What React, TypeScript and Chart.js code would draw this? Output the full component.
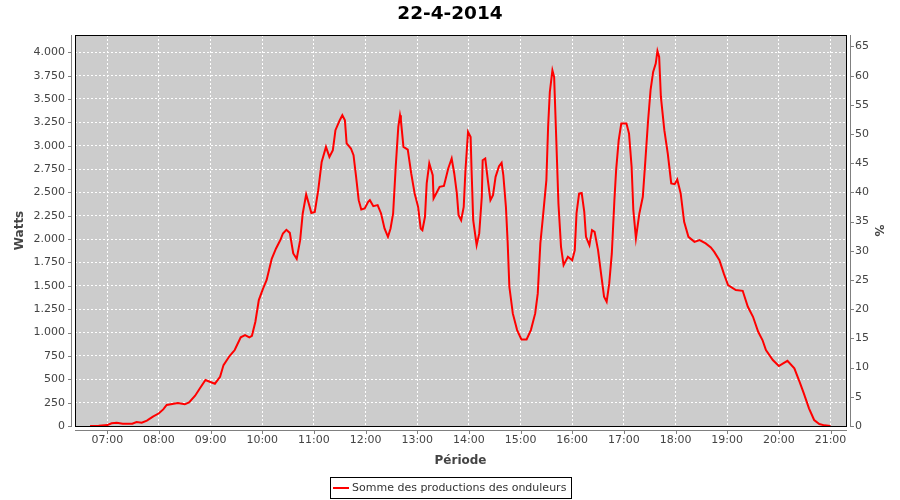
import React, { useEffect, useRef } from "react";
import { Chart, registerables } from "chart.js";

Chart.register(...registerables);

const TITLE = "22-4-2014";
const SERIES_LABEL = "Somme des productions des onduleurs";
const Y_LABEL = "Watts";
const Y2_LABEL = "%";
const X_LABEL = "Période";

const X_RANGE = ["06:22", "21:18"];
const Y_MAX = 4185;
const PERCENT_BASE = 62.5; // watts per percent

const hourLabels = [
  "07:00", "08:00", "09:00", "10:00", "11:00", "12:00", "13:00", "14:00",
  "15:00", "16:00", "17:00", "18:00", "19:00", "20:00", "21:00",
];
const wattTicks = [0, 250, 500, 750, 1000, 1250, 1500, 1750, 2000, 2250, 2500, 2750, 3000, 3250, 3500, 3750, 4000];
const wattTickLabels = ["0", "250", "500", "750", "1.000", "1.250", "1.500", "1.750", "2.000", "2.250", "2.500", "2.750", "3.000", "3.250", "3.500", "3.750", "4.000"];
const percentTicks = [0, 5, 10, 15, 20, 25, 30, 35, 40, 45, 50, 55, 60, 65];

const times = [
  "06:40", "06:50", "07:00", "07:05", "07:11", "07:18", "07:29", "07:34", "07:40", "07:46",
  "07:53", "08:00", "08:05", "08:09", "08:17", "08:22", "08:30", "08:35", "08:42", "08:48",
  "08:54", "08:59", "09:05", "09:11", "09:15", "09:22", "09:28", "09:35", "09:40", "09:45",
  "09:48", "09:52", "09:56", "10:01", "10:05", "10:11", "10:16", "10:21", "10:24", "10:28",
  "10:32", "10:36", "10:40", "10:44", "10:47", "10:51", "10:54", "10:57", "11:01", "11:05",
  "11:09", "11:14", "11:18", "11:22", "11:25", "11:30", "11:33", "11:36", "11:38", "11:43",
  "11:46", "11:49", "11:52", "11:55", "11:59", "12:03", "12:05", "12:09", "12:14", "12:18",
  "12:22", "12:26", "12:29", "12:32", "12:35", "12:38", "12:40", "12:41", "12:44", "12:49",
  "12:53", "12:57", "13:01", "13:04", "13:06", "13:09", "13:11", "13:14", "13:18", "13:19",
  "13:22", "13:26", "13:31", "13:36", "13:40", "13:43", "13:46", "13:48", "13:51", "13:54",
  "13:56", "13:59", "14:02", "14:03", "14:05", "14:09", "14:12", "14:15", "14:16", "14:19",
  "14:22", "14:25", "14:28", "14:31", "14:35", "14:38", "14:40", "14:43", "14:45", "14:47",
  "14:51", "14:56", "15:01", "15:07", "15:12", "15:17", "15:20", "15:23", "15:26", "15:30",
  "15:32", "15:34", "15:37", "15:39", "15:41", "15:44", "15:47", "15:50", "15:55", "16:00",
  "16:03", "16:05", "16:08", "16:11", "16:14", "16:16", "16:20", "16:23", "16:26", "16:30",
  "16:34", "16:37", "16:40", "16:43", "16:46", "16:49", "16:51", "16:54", "16:57", "17:03",
  "17:06", "17:09", "17:11", "17:14", "17:18", "17:22", "17:25", "17:28", "17:31", "17:34",
  "17:37", "17:39", "17:41", "17:43", "17:47", "17:51", "17:55", "17:59", "18:02", "18:06",
  "18:10", "18:15", "18:22", "18:28", "18:35", "18:41", "18:45", "18:51", "18:56", "19:01",
  "19:10", "19:18", "19:24", "19:30", "19:36", "19:41", "19:45", "19:53", "20:00", "20:05",
  "20:10", "20:18", "20:24", "20:29", "20:35", "20:41", "20:47", "20:53", "21:00",
];

const watts = [
  0, 2, 10, 29, 35, 25, 25, 43, 35, 57,
  100, 136, 178, 225, 239, 246, 232, 253, 324, 410,
  492, 474, 453, 527, 652, 749, 813, 949, 973, 949,
  966, 1116, 1348, 1473, 1561, 1790, 1900, 1990, 2061, 2100,
  2067, 1847, 1790, 1989, 2275, 2478, 2382, 2281, 2292, 2524,
  2827, 2987, 2880, 2952, 3166, 3273, 3326, 3273, 3024, 2970,
  2898, 2667, 2417, 2317, 2328, 2399, 2417, 2353, 2364, 2275,
  2114, 2025, 2114, 2275, 2773, 3201, 3326, 3273, 2987, 2959,
  2703, 2489, 2346, 2114, 2096, 2239, 2596, 2810, 2684, 2435,
  2489, 2560, 2570, 2756, 2863, 2703, 2489, 2257, 2203, 2346,
  2738, 3148, 3094, 2773, 2203, 1936, 2061, 2453, 2845, 2863,
  2631, 2417, 2471, 2667, 2781, 2817, 2684, 2346, 1971, 1490,
  1205, 1027, 927, 927, 1027, 1205, 1419, 1954, 2239, 2631,
  3201, 3575, 3807, 3736, 3201, 2382, 1918, 1722, 1811, 1775,
  1882, 2275, 2489, 2495, 2292, 2025, 1936, 2096, 2078, 1882,
  1597, 1383, 1329, 1526, 1847, 2417, 2738, 3059, 3237, 3237,
  3130, 2773, 2310, 2010, 2275, 2453, 2845, 3254, 3594, 3790,
  3879, 4014, 3950, 3522, 3166, 2916, 2596, 2588, 2638, 2489,
  2185, 2025, 1971, 1989, 1954, 1911, 1864, 1775, 1633, 1508,
  1455, 1447, 1276, 1169, 1009, 920, 813, 706, 642, 670,
  698, 617, 474, 349, 189, 64, 21, 7, 0,
];

const toMin = (s: string) => {
  const [h, m] = s.split(":").map(Number);
  return h * 60 + m;
};

const FONT = "DejaVu Sans";
const TICK_COLOR = "#444444";

const framePlugin = {
  id: "frame",
  beforeDraw(chart: any) {
    const { ctx, chartArea: a } = chart;
    ctx.save();
    ctx.fillStyle = "#ffffff";
    ctx.fillRect(0, 0, chart.width, chart.height);
    ctx.fillStyle = "#cccccc";
    ctx.fillRect(a.left, a.top, a.right - a.left, a.bottom - a.top);
    ctx.restore();
  },
  afterDraw(chart: any) {
    const { ctx, chartArea: a, scales } = chart;
    const L = Math.round(a.left), R = Math.round(a.right), T = Math.round(a.top), B = Math.round(a.bottom);
    ctx.save();
    // plot outline
    ctx.strokeStyle = "#000000";
    ctx.lineWidth = 1;
    ctx.strokeRect(L + 0.5, T + 0.5, R - L, B - T);
    // axis lines (offset)
    ctx.strokeStyle = "#808080";
    ctx.beginPath();
    ctx.moveTo(L - 3.5, T);
    ctx.lineTo(L - 3.5, B + 1);
    ctx.moveTo(R + 4.5, T);
    ctx.lineTo(R + 4.5, B + 1);
    ctx.moveTo(L, B + 4.5);
    ctx.lineTo(R + 1, B + 4.5);
    // tick marks
    scales.y.ticks.forEach((t: any) => {
      const y = Math.round(scales.y.getPixelForValue(t.value)) + 0.5;
      ctx.moveTo(L - 4, y);
      ctx.lineTo(L - 7, y);
    });
    scales.y2.ticks.forEach((t: any) => {
      const y = Math.round(scales.y2.getPixelForValue(t.value)) + 0.5;
      ctx.moveTo(R + 5, y);
      ctx.lineTo(R + 8, y);
    });
    scales.x.ticks.forEach((t: any) => {
      const x = Math.round(scales.x.getPixelForValue(t.value)) + 0.5;
      ctx.moveTo(x, B + 5);
      ctx.lineTo(x, B + 8);
    });
    ctx.stroke();

    // legend
    ctx.font = `11px "${FONT}"`;
    const tw = ctx.measureText(SERIES_LABEL).width;
    const boxW = Math.round(tw + 27);
    const bx = Math.round((chart.width - boxW) / 2);
    const by = 477;
    const bh = 21;
    ctx.strokeStyle = "#000000";
    ctx.lineWidth = 1;
    ctx.strokeRect(bx + 0.5, by + 0.5, boxW, bh);
    ctx.strokeStyle = "#ff0000";
    ctx.lineWidth = 2;
    ctx.beginPath();
    ctx.moveTo(bx + 3, by + 11);
    ctx.lineTo(bx + 19, by + 11);
    ctx.stroke();
    ctx.fillStyle = "#333333";
    ctx.textBaseline = "middle";
    ctx.textAlign = "left";
    ctx.fillText(SERIES_LABEL, bx + 22, by + 11.5);
    ctx.restore();
  },
};

export default function App() {
  const ref = useRef<HTMLCanvasElement | null>(null);

  useEffect(() => {
    if (!ref.current) return;
    Chart.defaults.font.family = FONT;
    const points = times.map((t, i) => ({ x: toMin(t), y: watts[i] }));
    const hourValues = hourLabels.map(toMin);

    const chart = new Chart(ref.current, {
      type: "line",
      data: {
        datasets: [
          {
            label: SERIES_LABEL,
            data: points,
            borderColor: "#ff0000",
            backgroundColor: "#ff0000",
            borderWidth: 2,
            pointRadius: 0,
            tension: 0,
            fill: false,
            yAxisID: "y",
          },
        ],
      },
      options: {
        animation: false,
        responsive: false,
        layout: { padding: { top: 0, left: 0, right: 0, bottom: 24 } },
        plugins: {
          legend: { display: false },
          tooltip: { enabled: false },
          title: {
            display: true,
            text: TITLE,
            color: "#000000",
            font: { size: 18.5, weight: "bold", family: FONT },
            padding: { top: 3, bottom: 9.8 },
          },
        },
        scales: {
          x: {
            type: "linear",
            position: "bottom",
            min: toMin(X_RANGE[0]) + 0.5,
            max: toMin(X_RANGE[1]),
            afterBuildTicks: (s: any) => {
              s.ticks = hourValues.map((v) => ({ value: v }));
            },
            afterFit: (s: any) => {
              s.height = 50;
            },
            ticks: {
              callback: (v: any) => hourLabels[hourValues.indexOf(Number(v))] ?? "",
              color: TICK_COLOR,
              font: { size: 11, family: FONT },
              padding: 8,
              maxRotation: 0,
              autoSkip: false,
            },
            grid: { color: "#ffffff", lineWidth: 1, drawTicks: false },
            border: { display: false, dash: [2, 2] },
            title: {
              display: true,
              text: X_LABEL,
              color: TICK_COLOR,
              font: { size: 12, weight: "bold", family: FONT },
              padding: { top: 0, bottom: 7.6 },
            },
          },
          y: {
            type: "linear",
            position: "left",
            min: 0,
            max: Y_MAX,
            afterBuildTicks: (s: any) => {
              s.ticks = wattTicks.map((v) => ({ value: v }));
            },
            afterFit: (s: any) => {
              s.width = 75;
            },
            ticks: {
              callback: (v: any) => wattTickLabels[wattTicks.indexOf(Number(v))] ?? "",
              color: TICK_COLOR,
              font: { size: 11, family: FONT },
              padding: 10,
              autoSkip: false,
            },
            grid: { color: "#ffffff", lineWidth: 1, drawTicks: false },
            border: { display: false, dash: [2, 2] },
            title: {
              display: true,
              text: Y_LABEL,
              color: TICK_COLOR,
              font: { size: 12, weight: "bold", family: FONT },
              padding: { top: 13, bottom: 0 },
            },
          },
          y2: {
            type: "linear",
            position: "right",
            min: 0,
            max: Y_MAX / PERCENT_BASE,
            afterBuildTicks: (s: any) => {
              s.ticks = percentTicks.map((v) => ({ value: v }));
            },
            afterFit: (s: any) => {
              s.width = 54;
            },
            ticks: {
              callback: (v: any) => String(v),
              color: TICK_COLOR,
              font: { size: 11, family: FONT },
              padding: 9,
              autoSkip: false,
            },
            grid: { display: false, drawTicks: false },
            border: { display: false },
            title: {
              display: true,
              text: Y2_LABEL,
              color: TICK_COLOR,
              font: { size: 12, weight: "bold", family: FONT },
              padding: { top: 15, bottom: 0 },
            },
          },
        },
      },
      plugins: [framePlugin],
    } as any);

    return () => chart.destroy();
  }, []);

  return (
    <div style={{ position: "fixed", left: 0, top: 0, width: 900, height: 500, background: "#fff" }}>
      <canvas ref={ref} width={900} height={500} style={{ display: "block" }} />
    </div>
  );
}
